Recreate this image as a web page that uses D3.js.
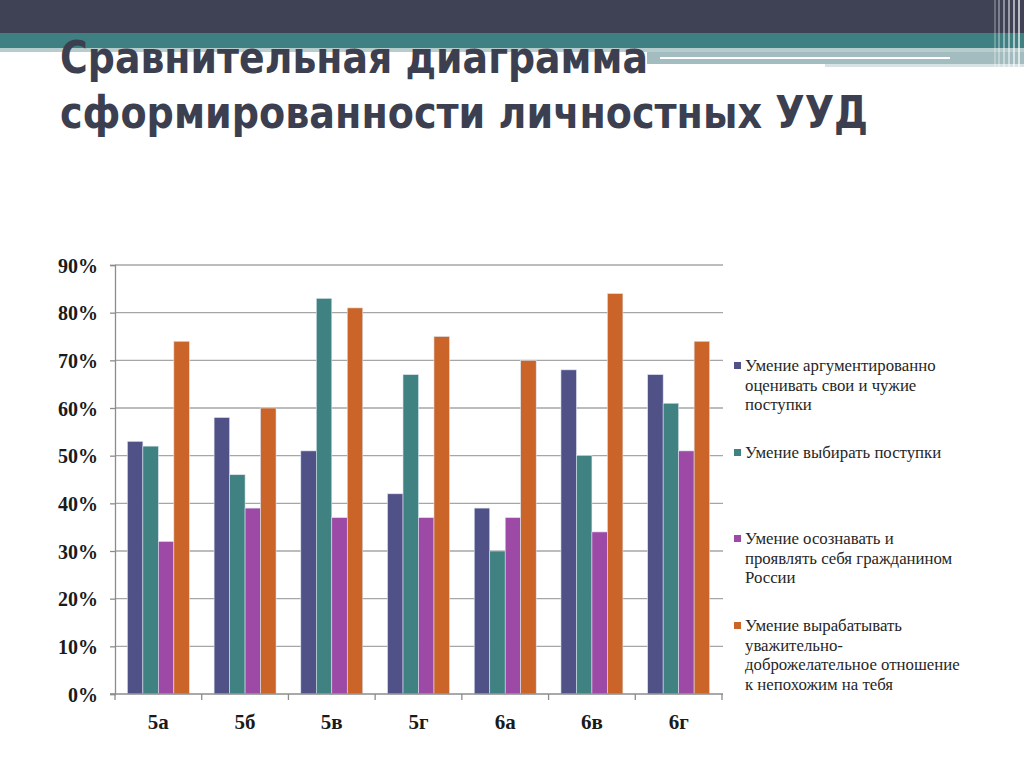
<!DOCTYPE html>
<html>
  <head>
    <meta charset="utf-8">
    <title>Сравнительная диаграмма</title>
    <style>
      body { margin: 0; background: #fff; }
    </style>
  </head>
  <body>
    <script src="https://cdn.jsdelivr.net/npm/d3@7"></script>
    <script>
      var w = 1024, h = 768;

      var classes = ["5а", "5б", "5в", "5г", "6а", "6в", "6г"];
      var seriesNames = [
        ["Умение аргументированно", "оценивать свои и чужие", "поступки"],
        ["Умение выбирать поступки"],
        ["Умение осознавать и", "проявлять себя гражданином", "России"],
        ["Умение вырабатывать", "уважительно-", "доброжелательное отношение", "к непохожим на тебя"]
      ];
      var argue = [53, 58, 51, 42, 39, 68, 67];
      var choose = [52, 46, 83, 67, 30, 50, 61];
      var citizen = [32, 39, 37, 37, 37, 34, 51];
      var respect = [74, 60, 81, 75, 70, 84, 74];
      var yTicks = [0, 10, 20, 30, 40, 50, 60, 70, 80, 90];
      var colors = ["#4f5187", "#3f8281", "#9c4aa6", "#cb6428"];

      var series = [argue, choose, citizen, respect];

      var svg = d3.select("body").append("svg").attr("width", w).attr("height", h);

      // slide header bands
      svg.append("rect").attr("x", 0).attr("y", 0).attr("width", w).attr("height", 34).attr("fill", "#3e4254");
      svg.append("rect").attr("x", 0).attr("y", 33).attr("width", w).attr("height", 15).attr("fill", "#3f8183");
      svg.append("rect").attr("x", 0).attr("y", 48).attr("width", w).attr("height", 4).attr("fill", "#b7cccd");
      svg.append("rect").attr("x", 647).attr("y", 52).attr("width", w - 647).attr("height", 12).attr("fill", "#a3bcbf");
      svg.append("rect").attr("x", 660).attr("y", 57).attr("width", 290).attr("height", 2).attr("fill", "#ffffff");
      svg.append("rect").attr("x", 825).attr("y", 64).attr("width", w - 825).attr("height", 3).attr("fill", "#d6e2e3");
      [994, 998, 1003, 1008, 1013, 1018].forEach(function(x, i) {
        svg.append("rect").attr("x", x).attr("y", 0).attr("width", 2).attr("height", 68)
          .attr("fill", "#ffffff").attr("opacity", 0.25 + i * 0.08);
      });

      // title
      var title = svg.append("g").attr("fill", "#3c3f4f")
        .style("font-family", "'DejaVu Sans Condensed', 'DejaVu Sans', sans-serif")
        .style("font-weight", "bold").style("font-size", "45px");
      title.append("text").attr("x", 60).attr("y", 73)
        .attr("textLength", 588).attr("lengthAdjust", "spacingAndGlyphs")
        .text("Сравнительная диаграмма");
      title.append("text").attr("x", 60).attr("y", 128)
        .attr("textLength", 808).attr("lengthAdjust", "spacingAndGlyphs")
        .text("сформированности личностных УУД");

      // chart
      var plotLeft = 115, plotRight = 722, plotTop = 265, plotBottom = 694;

      var x = d3.scaleBand().domain(classes).range([plotLeft, plotRight]).paddingInner(0).paddingOuter(0);
      var xs = d3.scaleBand().domain(d3.range(4)).range([0, x.bandwidth()]).paddingInner(0).paddingOuter(0.8);
      var y = d3.scaleLinear().domain([0, 90]).range([plotBottom, plotTop]);

      // gridlines
      svg.append("g").selectAll("line").data(yTicks.slice(1)).enter().append("line")
        .attr("x1", plotLeft).attr("x2", plotRight + 1)
        .attr("y1", function(d) { return y(d); }).attr("y2", function(d) { return y(d); })
        .attr("stroke", "#a6a6a6").attr("stroke-width", 1.3);

      // bars
      var groups = svg.append("g").selectAll("g").data(classes).enter().append("g")
        .attr("transform", function(d) { return "translate(" + x(d) + ",0)"; });
      groups.selectAll("rect").data(function(d, i) {
        return series.map(function(s, k) { return { k: k, v: s[i] }; });
      }).enter().append("rect")
        .attr("x", function(d) { return xs(d.k); })
        .attr("width", xs.bandwidth())
        .attr("y", function(d) { return y(d.v); })
        .attr("height", function(d) { return y(0) - y(d.v); })
        .attr("fill", function(d) { return colors[d.k]; })
        .attr("stroke", "#d9e3ee").attr("stroke-width", 0.6);

      // axes
      var yAxis = d3.axisLeft(y).tickValues(yTicks).tickSize(5).tickFormat(function(d) { return d + "%"; });
      var ya = svg.append("g").attr("transform", "translate(" + plotLeft + ",0)").call(yAxis);
      ya.select(".domain").attr("stroke", "#8c8c8c").attr("stroke-width", 1.3);
      ya.selectAll(".tick line").attr("stroke", "#8c8c8c").attr("stroke-width", 1.3);
      ya.selectAll(".tick text").attr("x", -17).attr("dy", "0.35em")
        .style("font-family", "'Liberation Serif', 'DejaVu Serif', serif")
        .style("font-weight", "bold").style("font-size", "20px").attr("fill", "#1a1a1a");

      var xAxis = d3.axisBottom(x).tickSize(0).tickPadding(20);
      var xa = svg.append("g").attr("transform", "translate(0," + plotBottom + ")").call(xAxis);
      xa.select(".domain").remove();
      xa.append("line").attr("x1", plotLeft - 5).attr("x2", plotRight + 1).attr("y1", 0).attr("y2", 0)
        .attr("stroke", "#8c8c8c").attr("stroke-width", 1.3);
      xa.selectAll(".sep").data(d3.range(classes.length + 1)).enter().append("line")
        .attr("x1", function(i) { return plotLeft + i * x.step(); })
        .attr("x2", function(i) { return plotLeft + i * x.step(); })
        .attr("y1", 0).attr("y2", 6)
        .attr("stroke", "#8c8c8c").attr("stroke-width", 1.3);
      xa.selectAll(".tick text")
        .style("font-family", "'Liberation Serif', 'DejaVu Serif', serif")
        .style("font-weight", "bold").style("font-size", "21px").attr("fill", "#1a1a1a");

      // legend
      var legendY = [371, 458, 544, 631];
      var lg = svg.append("g").selectAll("g").data(seriesNames).enter().append("g")
        .attr("transform", function(d, i) { return "translate(734," + legendY[i] + ")"; });
      lg.append("rect").attr("x", 0).attr("y", -9).attr("width", 7).attr("height", 7)
        .attr("fill", function(d, i) { return colors[i]; });
      lg.selectAll("text").data(function(d) { return d; }).enter().append("text")
        .attr("x", 11).attr("y", function(d, i) { return i * 19.6; })
        .style("font-family", "'Liberation Serif', 'DejaVu Serif', serif")
        .style("font-size", "16.8px").attr("fill", "#262626")
        .text(function(d) { return d; });
    </script>
  </body>
</html>
